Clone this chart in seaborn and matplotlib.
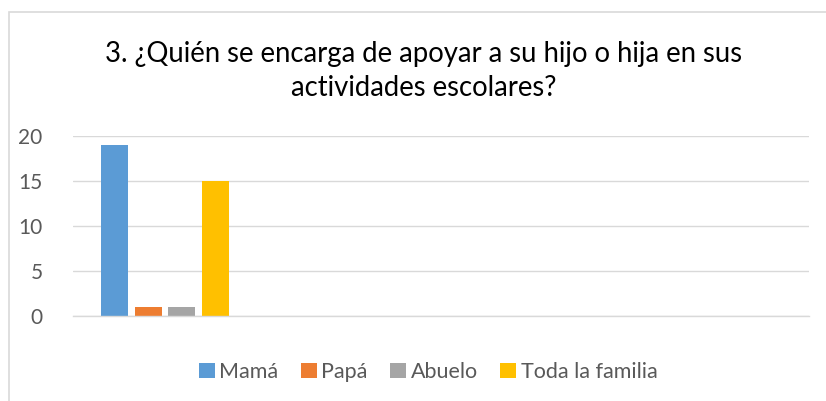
import matplotlib
matplotlib.use("Agg")
import matplotlib.pyplot as plt
import seaborn as sns
import pandas as pd
from matplotlib.patches import Rectangle

# Data
series = ["Mamá", "Papá", "Abuelo", "Toda la familia"]
values = [19, 1, 1, 15]
category = ["3"]
colors = ["#5B9BD5", "#ED7D31", "#A5A5A5", "#FFC000"]
yticks = [0, 5, 10, 15, 20]
title = "3. ¿Quién se encarga de apoyar a su hijo o hija en sus\nactividades escolares?"

df = pd.DataFrame({"cat": category * len(series), "serie": series, "valor": values})

sns.set_theme(style="white")
plt.rcParams["font.family"] = ["Lato", "DejaVu Sans"]

fig = plt.figure(figsize=(8.26, 4.01), dpi=100)
ax = fig.add_axes([73/826, 1-316/401, (809-73)/826, (316-136)/401])

sns.barplot(data=df, x="cat", y="valor", hue="serie", hue_order=series,
            palette=colors, width=0.733, gap=0.2, ax=ax, legend=True,
            saturation=1, errorbar=None, linewidth=0, edgecolor="none")

ax.set_xlim(-0.5, 3.5)
ax.set_ylim(0, 20)
ax.set_yticks(yticks)
ax.set_yticklabels([str(t) for t in yticks], color="#595959", fontsize=15)
ax.tick_params(axis="y", length=0, pad=22)
ax.set_xticks([])
ax.set_xlabel("")
ax.set_ylabel("")
ax.grid(axis="y", color="#D9D9D9", linewidth=1)
ax.set_axisbelow(True)
for s in ["top", "right", "left"]:
    ax.spines[s].set_visible(False)
ax.spines["bottom"].set_color("#D9D9D9")
ax.spines["bottom"].set_linewidth(1)

fig.text(424/826, 1-71/401, title, ha="center", va="center", fontsize=19.8,
         color="#000000", linespacing=1.35)

handles, labels = ax.get_legend_handles_labels()
ax.legend_.remove()
fig.legend(handles, labels, loc="center", bbox_to_anchor=(428/826, 1-372/401),
           ncol=4, frameon=False, fontsize=15.5, labelcolor="#595959",
           handlelength=0.75, handleheight=0.75, handletextpad=0.2, columnspacing=1.05)

fig.patches.append(Rectangle((9/826, -0.5), 2, 1.5 - 12/401, transform=fig.transFigure,
                             fill=False, edgecolor="#D9D9D9", linewidth=1.2))

fig.savefig("out.png", dpi=100, facecolor="white")
